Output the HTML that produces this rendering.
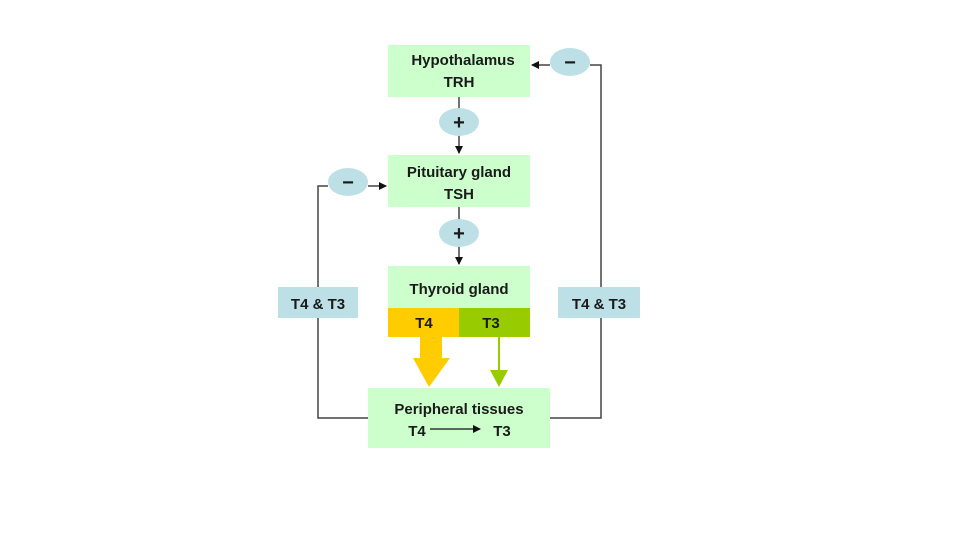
<!DOCTYPE html>
<html><head><style>
body{margin:0;background:#fff;}
svg text{font-family:"Liberation Sans",sans-serif;font-weight:bold;fill:#1a1a1a;}
</style></head><body>
<svg width="960" height="540" xmlns="http://www.w3.org/2000/svg">
<defs><marker id="a" markerWidth="8" markerHeight="8" refX="7" refY="4" orient="auto" markerUnits="userSpaceOnUse"><path d="M0,0L8,4L0,8z" fill="#111"/></marker></defs>
<g stroke="#444" stroke-width="1.5" fill="none">
<line x1="459" y1="97" x2="459" y2="153" marker-end="url(#a)"/>
<line x1="459" y1="207" x2="459" y2="264" marker-end="url(#a)"/>
<line x1="368" y1="186" x2="386" y2="186" marker-end="url(#a)"/>
<line x1="550" y1="65" x2="532" y2="65" marker-end="url(#a)"/>
<polyline points="328,186 318,186 318,418 368,418"/>
<polyline points="590,65 601,65 601,418 550,418"/>
</g>
<rect x="388" y="45" width="142" height="52" fill="#ccffcc"/>
<rect x="388" y="155" width="142" height="52" fill="#ccffcc"/>
<rect x="388" y="266" width="142" height="42" fill="#ccffcc"/>
<rect x="388" y="308" width="71" height="29" fill="#ffcc00"/>
<rect x="459" y="308" width="71" height="29" fill="#99cc00"/>
<rect x="368" y="388" width="182" height="60" fill="#ccffcc"/>
<rect x="278" y="287" width="80" height="31" fill="#bde0e6"/>
<rect x="558" y="287" width="82" height="31" fill="#bde0e6"/>
<ellipse cx="459" cy="122" rx="20" ry="14" fill="#bde0e6"/>
<ellipse cx="459" cy="233" rx="20" ry="14" fill="#bde0e6"/>
<ellipse cx="348" cy="182" rx="20" ry="14" fill="#bde0e6"/>
<ellipse cx="570" cy="62" rx="20" ry="14" fill="#bde0e6"/>
<polygon points="420,337 442,337 442,358 450,358 429,387 413,358 420,358" fill="#ffcc00"/>
<line x1="499" y1="337" x2="499" y2="372" stroke="#99cc00" stroke-width="2"/>
<polygon points="490,370 508,370 499,387" fill="#99cc00"/>
<line x1="430" y1="429" x2="480" y2="429" stroke="#111" stroke-width="1.3" marker-end="url(#a)"/>
<g font-size="15" text-anchor="middle">
<text x="463" y="65">Hypothalamus</text><text x="459" y="87">TRH</text>
<text x="459" y="177">Pituitary gland</text><text x="459" y="199">TSH</text>
<text x="459" y="294">Thyroid gland</text>
<text x="424" y="328">T4</text><text x="491" y="328">T3</text>
<text x="459" y="414">Peripheral tissues</text>
<text x="417" y="436">T4</text><text x="502" y="436">T3</text>
<text x="318" y="309">T4 &amp; T3</text><text x="599" y="309">T4 &amp; T3</text>
<text x="459" y="129" font-size="20">+</text><text x="459" y="240" font-size="20">+</text>
<text x="348" y="189" font-size="20">−</text><text x="570" y="69" font-size="20">−</text>
</g>
</svg>
</body></html>
